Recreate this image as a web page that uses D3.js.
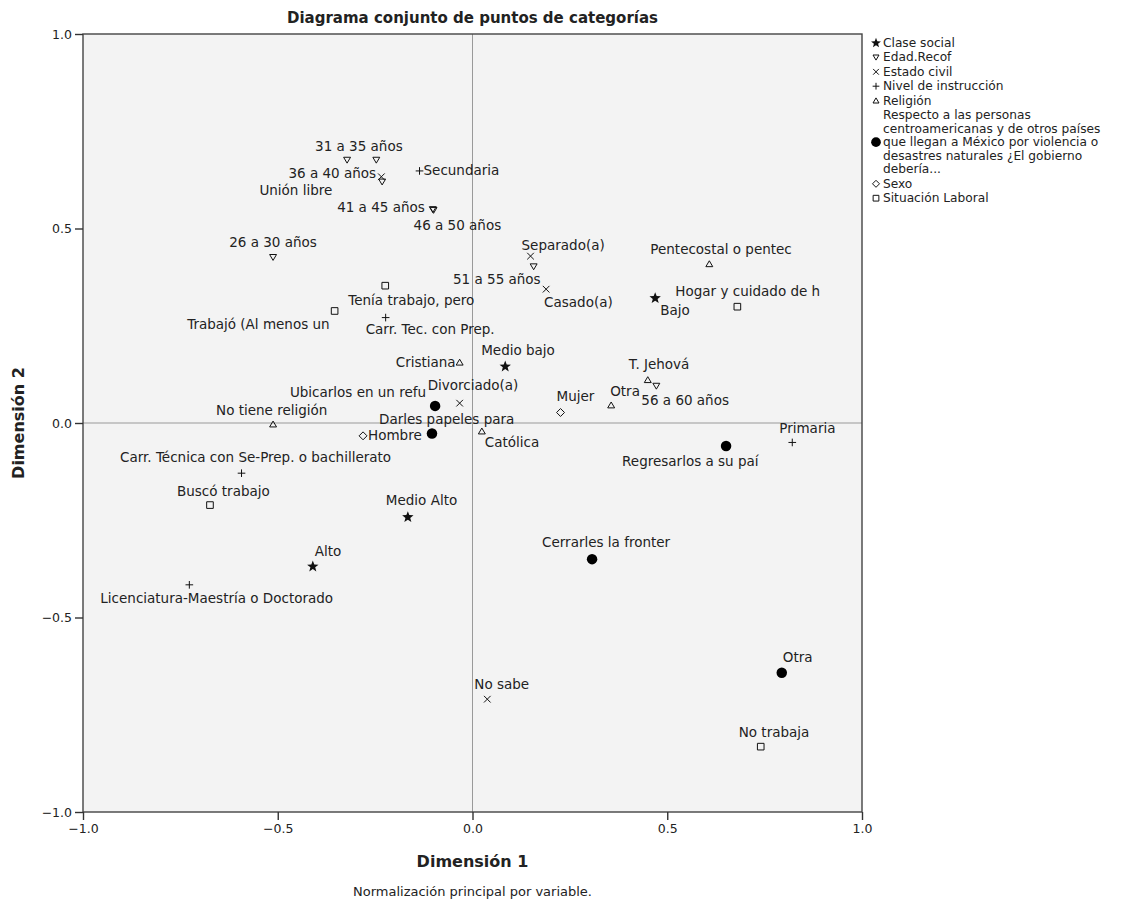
<!DOCTYPE html>
<html>
<head>
<meta charset="utf-8">
<script src="https://cdn.jsdelivr.net/npm/d3@7"></script>
<style>
    body { margin: 0; background: #fff; }
    text { font-family: "DejaVu Sans", "Lucida Grande", sans-serif; fill: #222; }
</style>
</head>
<body>
<svg id="chart" width="1143" height="913"></svg>
<script>
// variables in the order of the legend
var variables = [
    "Clase social",
    "Edad.Recof",
    "Estado civil",
    "Nivel de instrucción",
    "Religión",
    "Respecto a las personas centroamericanas y de otros países que llegan  a México por violencia o desastres naturales ¿El gobierno debería...",
    "Sexo",
    "Situación Laboral"
];

var legendLines = [
    ["Clase social"],
    ["Edad.Recof"],
    ["Estado civil"],
    ["Nivel de instrucción"],
    ["Religión"],
    ["Respecto a las personas", "centroamericanas y de otros países", "que llegan  a México por violencia o", "desastres naturales ¿El gobierno", "debería..."],
    ["Sexo"],
    ["Situación Laboral"]
];

var claseSocial = [
    {label: "Bajo", x: 0.469, y: 0.321},
    {label: "Medio bajo", x: 0.084, y: 0.145},
    {label: "Medio Alto", x: -0.166, y: -0.242},
    {label: "Alto", x: -0.410, y: -0.369}
];

var edad = [
    {label: "31 a 35 años", x: -0.322, y: 0.676},
    {label: "", x: -0.247, y: 0.676},
    {label: "36 a 40 años", x: -0.232, y: 0.620},
    {label: "41 a 45 años", x: -0.102, y: 0.549},
    {label: "46 a 50 años", x: -0.100, y: 0.547},
    {label: "26 a 30 años", x: -0.512, y: 0.426},
    {label: "51 a 55 años", x: 0.157, y: 0.402},
    {label: "56 a 60 años", x: 0.472, y: 0.095}
];

var estadoCivil = [
    {label: "Unión libre", x: -0.234, y: 0.633},
    {label: "Separado(a)", x: 0.149, y: 0.429},
    {label: "Casado(a)", x: 0.189, y: 0.344},
    {label: "Divorciado(a)", x: -0.033, y: 0.051},
    {label: "No sabe", x: 0.038, y: -0.710}
];

var instruccion = [
    {label: "Secundaria", x: -0.136, y: 0.648},
    {label: "Carr. Tec. con Prep.", x: -0.223, y: 0.271},
    {label: "Primaria", x: 0.821, y: -0.050},
    {label: "Carr. Técnica con Se-Prep. o bachillerato", x: -0.593, y: -0.129},
    {label: "Licenciatura-Maestría o Doctorado", x: -0.727, y: -0.416}
];

var religion = [
    {label: "Pentecostal o pentec", x: 0.608, y: 0.409},
    {label: "Cristiana", x: -0.033, y: 0.156},
    {label: "T. Jehová", x: 0.450, y: 0.111},
    {label: "Otra", x: 0.356, y: 0.046},
    {label: "No tiene religión", x: -0.512, y: -0.003},
    {label: "Católica", x: 0.024, y: -0.021}
];

var respecto = [
    {label: "Ubicarlos en un refu", x: -0.096, y: 0.044},
    {label: "Darles papeles para", x: -0.104, y: -0.027},
    {label: "Regresarlos a su paí", x: 0.651, y: -0.059},
    {label: "Cerrarles la fronter", x: 0.307, y: -0.350},
    {label: "Otra", x: 0.794, y: -0.642}
];

var sexo = [
    {label: "Mujer", x: 0.226, y: 0.027},
    {label: "Hombre", x: -0.281, y: -0.033}
];

var situacionLaboral = [
    {label: "Tenía trabajo, pero", x: -0.224, y: 0.353},
    {label: "Trabajó (Al menos un", x: -0.354, y: 0.288},
    {label: "Hogar y cuidado de h", x: 0.680, y: 0.299},
    {label: "Buscó trabajo", x: -0.674, y: -0.211},
    {label: "No trabaja", x: 0.740, y: -0.832}
];

var seriesPoints = [claseSocial, edad, estadoCivil, instruccion, religion, respecto, sexo, situacionLaboral];

var axisTicks = [-1.0, -0.5, 0.0, 0.5, 1.0];

// label placement around each marker: [dx, dy, anchor], keyed by "variable index|label"
var labelPlacement = {
    "0|Bajo": [5, 17, "start"],
    "0|Medio bajo": [-24, -12, "start"],
    "0|Medio Alto": [-22, -12, "start"],
    "0|Alto": [2, -11, "start"],
    "1|31 a 35 años": [-32, -9, "start"],
    "1|36 a 40 años": [-6, -4, "end"],
    "1|41 a 45 años": [-8, 3, "end"],
    "1|46 a 50 años": [-20, 20, "start"],
    "1|26 a 30 años": [0, -10, "middle"],
    "1|51 a 55 años": [7, 17, "end"],
    "1|56 a 60 años": [-15, 19, "start"],
    "2|Unión libre": [-49, 18, "end"],
    "2|Separado(a)": [-9, -6, "start"],
    "2|Casado(a)": [-2, 18, "start"],
    "2|Divorciado(a)": [-32, -13, "start"],
    "2|No sabe": [-13, -10, "start"],
    "3|Secundaria": [4, 4, "start"],
    "3|Carr. Tec. con Prep.": [-20, 16, "start"],
    "3|Primaria": [-13, -9, "start"],
    "3|Carr. Técnica con Se-Prep. o bachillerato": [14, -11, "middle"],
    "3|Licenciatura-Maestría o Doctorado": [-89, 18, "start"],
    "4|Pentecostal o pentec": [-59, -10, "start"],
    "4|Cristiana": [-4, 5, "end"],
    "4|T. Jehová": [-19, -11, "start"],
    "4|Otra": [-1, -9, "start"],
    "4|No tiene religión": [-57, -9, "start"],
    "4|Católica": [3, 16, "start"],
    "5|Ubicarlos en un refu": [-9, -9, "end"],
    "5|Darles papeles para": [-53, -10, "start"],
    "5|Regresarlos a su paí": [-104, 20, "start"],
    "5|Cerrarles la fronter": [-50, -12, "start"],
    "5|Otra": [1, -11, "start"],
    "6|Mujer": [-4, -11, "start"],
    "6|Hombre": [5, 4, "start"],
    "7|Tenía trabajo, pero": [-37, 19, "start"],
    "7|Trabajó (Al menos un": [-5, 18, "end"],
    "7|Hogar y cuidado de h": [-62, -11, "start"],
    "7|Buscó trabajo": [-33, -9, "start"],
    "7|No trabaja": [-22, -10, "start"]
};

// custom marker shapes, drawn like d3 symbol types
var markers = {
    star: {draw: function (ctx, size) {
        var R = Math.sqrt(size) * 0.75, r = R * 0.42;
        for (var i = 0; i < 10; i++) {
            var a = -Math.PI / 2 + i * Math.PI / 5, rr = i % 2 ? r : R;
            if (i === 0) ctx.moveTo(rr * Math.cos(a), rr * Math.sin(a));
            else ctx.lineTo(rr * Math.cos(a), rr * Math.sin(a));
        }
        ctx.closePath();
    }},
    triDown: {draw: function (ctx, size) {
        var s = Math.sqrt(size) / 2;
        ctx.moveTo(-s, -s * 0.8); ctx.lineTo(s, -s * 0.8); ctx.lineTo(0, s * 0.9); ctx.closePath();
    }},
    triUp: {draw: function (ctx, size) {
        var s = Math.sqrt(size) / 2;
        ctx.moveTo(-s, s * 0.8); ctx.lineTo(s, s * 0.8); ctx.lineTo(0, -s * 0.9); ctx.closePath();
    }},
    times: {draw: function (ctx, size) {
        var s = Math.sqrt(size) / 2;
        ctx.moveTo(-s, -s); ctx.lineTo(s, s); ctx.moveTo(s, -s); ctx.lineTo(-s, s);
    }},
    plus: {draw: function (ctx, size) {
        var s = Math.sqrt(size) / 2 + 0.5;
        ctx.moveTo(-s, 0); ctx.lineTo(s, 0); ctx.moveTo(0, -s); ctx.lineTo(0, s);
    }},
    circle: {draw: function (ctx, size) {
        var r = Math.sqrt(size) / 2;
        ctx.moveTo(r, 0); ctx.arc(0, 0, r, 0, 2 * Math.PI);
    }},
    diamond: {draw: function (ctx, size) {
        var s = Math.sqrt(size) / 2 + 0.5;
        ctx.moveTo(0, -s); ctx.lineTo(s, 0); ctx.lineTo(0, s); ctx.lineTo(-s, 0); ctx.closePath();
    }},
    square: {draw: function (ctx, size) {
        var s = Math.sqrt(size) / 2;
        ctx.rect(-s, -s, 2 * s, 2 * s);
    }}
};

var markerStyle = [
    {type: markers.star, size: 64, fill: "#111", stroke: "none"},
    {type: markers.triDown, size: 48, fill: "none", stroke: "#111"},
    {type: markers.times, size: 44, fill: "none", stroke: "#111"},
    {type: markers.plus, size: 44, fill: "none", stroke: "#111"},
    {type: markers.triUp, size: 48, fill: "none", stroke: "#111"},
    {type: markers.circle, size: 110, fill: "#000", stroke: "none"},
    {type: markers.diamond, size: 48, fill: "none", stroke: "#111"},
    {type: markers.square, size: 44, fill: "none", stroke: "#111"}
];

var svg = d3.select("#chart");
var plot = {left: 83, right: 862, top: 34, bottom: 812};

var x = d3.scaleLinear().domain([-1, 1]).range([plot.left, plot.right]);
var y = d3.scaleLinear().domain([-1, 1]).range([plot.bottom, plot.top]);

svg.append("rect")
    .attr("x", plot.left).attr("y", plot.top)
    .attr("width", plot.right - plot.left).attr("height", plot.bottom - plot.top)
    .attr("fill", "#f3f3f3");

// reference lines at the origin
svg.append("line")
    .attr("x1", x(0)).attr("x2", x(0)).attr("y1", plot.top).attr("y2", plot.bottom)
    .attr("stroke", "#999").attr("stroke-width", 1);
svg.append("line")
    .attr("x1", plot.left).attr("x2", plot.right).attr("y1", y(0)).attr("y2", y(0))
    .attr("stroke", "#999").attr("stroke-width", 1);

svg.append("rect")
    .attr("x", plot.left).attr("y", plot.top)
    .attr("width", plot.right - plot.left).attr("height", plot.bottom - plot.top)
    .attr("fill", "none").attr("stroke", "#444").attr("stroke-width", 1.4);

var fmt = d3.format(".1f");
var xAxis = svg.append("g")
    .attr("transform", "translate(0," + plot.bottom + ")")
    .call(d3.axisBottom(x).tickValues(axisTicks).tickFormat(fmt).tickSize(8).tickPadding(4));
var yAxis = svg.append("g")
    .attr("transform", "translate(" + plot.left + ",0)")
    .call(d3.axisLeft(y).tickValues(axisTicks).tickFormat(fmt).tickSize(8).tickPadding(3));

[xAxis, yAxis].forEach(function (g) {
    g.select(".domain").remove();
    g.selectAll(".tick line").attr("stroke", "#333").attr("stroke-width", 1.4);
    g.selectAll(".tick text")
        .style("font-family", "DejaVu Sans, sans-serif")
        .style("font-size", "12.5px")
        .attr("fill", "#333");
});
yAxis.selectAll(".tick text").attr("dy", "0.35em");

// markers and their labels
var layer = svg.append("g").attr("class", "points");
seriesPoints.forEach(function (points, i) {
    var st = markerStyle[i];
    var symbol = d3.symbol().type(st.type).size(st.size);
    var g = layer.append("g").attr("class", "variable v" + i);

    g.selectAll("path")
        .data(points)
        .enter()
        .append("path")
        .attr("d", symbol)
        .attr("transform", function (d) {
            return "translate(" + x(d.x) + "," + y(d.y) + ")";
        })
        .attr("fill", st.fill)
        .attr("stroke", st.stroke)
        .attr("stroke-width", 1);

    g.selectAll("text")
        .data(points.filter(function (d) { return d.label !== ""; }))
        .enter()
        .append("text")
        .attr("x", function (d) {
            var p = labelPlacement[i + "|" + d.label] || [4, -6, "start"];
            return x(d.x) + p[0];
        })
        .attr("y", function (d) {
            var p = labelPlacement[i + "|" + d.label] || [4, -6, "start"];
            return y(d.y) + p[1];
        })
        .attr("text-anchor", function (d) {
            var p = labelPlacement[i + "|" + d.label] || [4, -6, "start"];
            return p[2];
        })
        .style("font-size", "13.5px")
        .text(function (d) { return d.label; });
});

// titles
svg.append("text")
    .attr("x", x(0)).attr("y", 23)
    .attr("text-anchor", "middle")
    .style("font-size", "15px").style("font-weight", "bold")
    .attr("fill", "#111")
    .text("Diagrama conjunto de puntos de categorías");

svg.append("text")
    .attr("x", x(0)).attr("y", 867)
    .attr("text-anchor", "middle")
    .style("font-size", "16px").style("font-weight", "bold")
    .text("Dimensión 1");

svg.append("text")
    .attr("transform", "translate(24," + y(0) + ") rotate(-90)")
    .attr("text-anchor", "middle")
    .style("font-size", "16px").style("font-weight", "bold")
    .text("Dimensión 2");

svg.append("text")
    .attr("x", x(0)).attr("y", 896)
    .attr("text-anchor", "middle")
    .style("font-size", "13px")
    .text("Normalización principal por variable.");

// legend
var legend = svg.append("g").attr("class", "legend").attr("transform", "translate(874,0)");
var lineH = 13.6, rowGap = 14.4, ly = 47;
legendLines.forEach(function (lines, i) {
    var st = markerStyle[i];
    var top = ly;
    var item = legend.append("g").attr("class", "legend_item").attr("data-variable", variables[i]);
    lines.forEach(function (ln, k) {
        item.append("text")
            .attr("x", 9).attr("y", top + k * lineH)
            .style("font-size", "12.2px")
            .text(ln);
    });
    var mid = top + (lines.length - 1) * lineH / 2 - 4;
    item.append("path")
        .attr("d", d3.symbol().type(st.type).size(st.size * (i === 5 ? 0.85 : 0.75))())
        .attr("transform", "translate(2," + mid + ")")
        .attr("fill", st.fill)
        .attr("stroke", st.stroke)
        .attr("stroke-width", 1);
    ly += (lines.length - 1) * lineH + rowGap;
});
</script>
</body>
</html>
